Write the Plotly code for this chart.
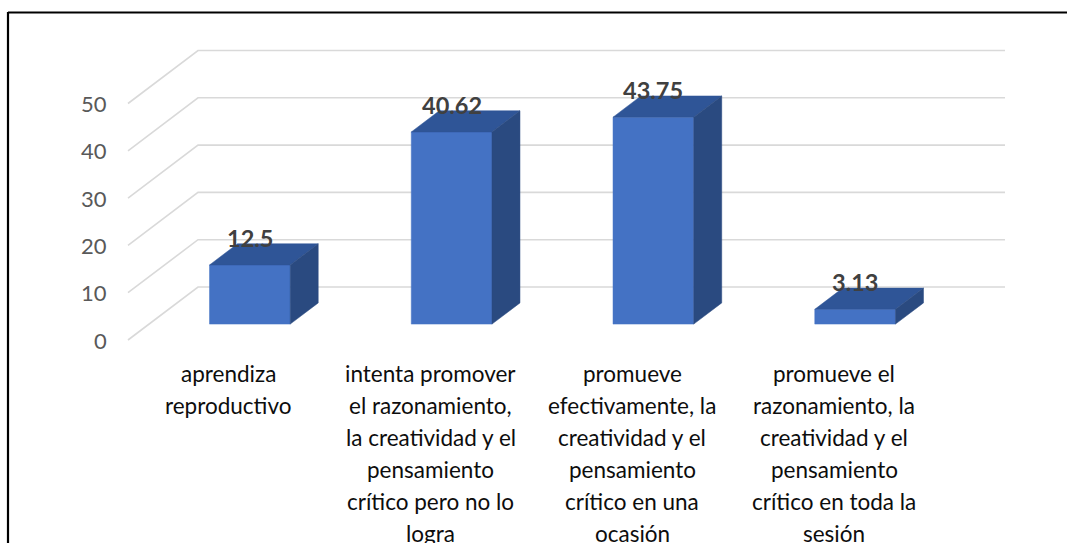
import plotly.graph_objects as go

# ---- data ----
categories = [
    "aprendiza<br>reproductivo",
    "intenta promover<br>el razonamiento,<br>la creatividad y el<br>pensamiento<br>crítico pero no lo<br>logra",
    "promueve<br>efectivamente, la<br>creatividad y el<br>pensamiento<br>crítico en una<br>ocasión",
    "promueve el<br>razonamiento, la<br>creatividad y el<br>pensamiento<br>crítico en toda la<br>sesión",
]
values = [12.5, 40.62, 43.75, 3.13]
value_labels = ["12.5", "40.62", "43.75", "3.13"]
tick_values = [0, 10, 20, 30, 40, 50]
tick_labels = ["0", "10", "20", "30", "40", "50"]

# ---- geometry (pseudo-3D projection) ----
W, H = 1067, 543
X0_PX, CAT_PX = 128.0, 201.75      # pixel of category-axis origin, px per category
Y0_PX, UNIT_PX = 340.0, 4.73       # pixel of value 0 (front), px per value unit
DEPTH_X = 70.0 / CAT_PX            # depth offset in category units
DEPTH_Y = 53.0 / UNIT_PX           # depth offset in value units
BAR_W = 0.4
D_FRONT, D_BACK = 0.3, 0.7

FRONT_C = "#4472C4"
TOP_C = "#2F5597"
SIDE_C = "#2A4A80"
GRID_C = "#D9D9D9"

def proj(x, v, d):
    return x + DEPTH_X * d, v + DEPTH_Y * d

fig = go.Figure()

# gridlines: floor diagonal + back wall
n_cat = len(categories)
for tv in tick_values:
    pts = [proj(0, tv, 0), proj(0, tv, 1), proj(n_cat, tv, 1)]
    fig.add_trace(go.Scatter(x=[p[0] for p in pts], y=[p[1] for p in pts], mode="lines",
                             line=dict(color=GRID_C, width=1.6), hoverinfo="skip", showlegend=False))

def face(pts, color):
    xs = [p[0] for p in pts] + [pts[0][0]]
    ys = [p[1] for p in pts] + [pts[0][1]]
    fig.add_trace(go.Scatter(x=xs, y=ys, mode="lines", fill="toself", fillcolor=color,
                             line=dict(color=color, width=0.5), hoverinfo="skip", showlegend=False))

for i, v in enumerate(values):
    xl = i + 0.5 - BAR_W / 2
    xr = i + 0.5 + BAR_W / 2
    face([proj(xl, 0, D_FRONT), proj(xr, 0, D_FRONT), proj(xr, v, D_FRONT), proj(xl, v, D_FRONT)], FRONT_C)
    face([proj(xl, v, D_FRONT), proj(xr, v, D_FRONT), proj(xr, v, D_BACK), proj(xl, v, D_BACK)], TOP_C)
    face([proj(xr, 0, D_FRONT), proj(xr, 0, D_BACK), proj(xr, v, D_BACK), proj(xr, v, D_FRONT)], SIDE_C)

annotations = []
# data labels
for i, (v, lab) in enumerate(zip(values, value_labels)):
    x, _ = proj(i + 0.5, v, D_FRONT)
    _, y = proj(i + 0.5, v, D_BACK)
    annotations.append(dict(x=x, y=y, text=f"<b>{lab}</b>", showarrow=False, xanchor="center",
                            yanchor="middle", yshift=6,
                            font=dict(family="Lato", size=23.5, color="#404040")))
# value-axis tick labels
for tv, tl in zip(tick_values, tick_labels):
    annotations.append(dict(x=0, y=tv, text=tl, showarrow=False, xanchor="right", yanchor="middle",
                            xshift=-19, font=dict(family="Lato", size=22, color="#595959")))
# category labels (one annotation per line for Excel-like line spacing)
for i, cat in enumerate(categories):
    for j, line in enumerate(cat.split("<br>")):
        annotations.append(dict(x=i + 0.5, y=0, text=line, showarrow=False, xanchor="center",
                                yanchor="middle", yshift=-(33 + 32 * j),
                                font=dict(family="Lato", size=22.5, color="#0d0d0d")))

x_range = [(0 - X0_PX) / CAT_PX, (W - X0_PX) / CAT_PX]
y_range = [(Y0_PX - H) / UNIT_PX, Y0_PX / UNIT_PX]

fig.update_layout(
    width=W, height=H,
    margin=dict(l=0, r=0, t=0, b=0),
    paper_bgcolor="white", plot_bgcolor="white",
    xaxis=dict(range=x_range, visible=False, fixedrange=True),
    yaxis=dict(range=y_range, visible=False, fixedrange=True),
    annotations=annotations,
    shapes=[
        dict(type="line", xref="paper", yref="paper", x0=8 / W, x1=8 / W, y0=1 - 12 / H, y1=-0.1,
             line=dict(color="black", width=2.2)),
        dict(type="line", xref="paper", yref="paper", x0=8 / W, x1=1.1, y0=1 - 12.5 / H, y1=1 - 12.5 / H,
             line=dict(color="black", width=2.2)),
    ],
    showlegend=False,
)

fig.write_html("out.html", config={"displayModeBar": False},
               post_script="document.body.style.margin='0';document.body.style.overflow='hidden';")
